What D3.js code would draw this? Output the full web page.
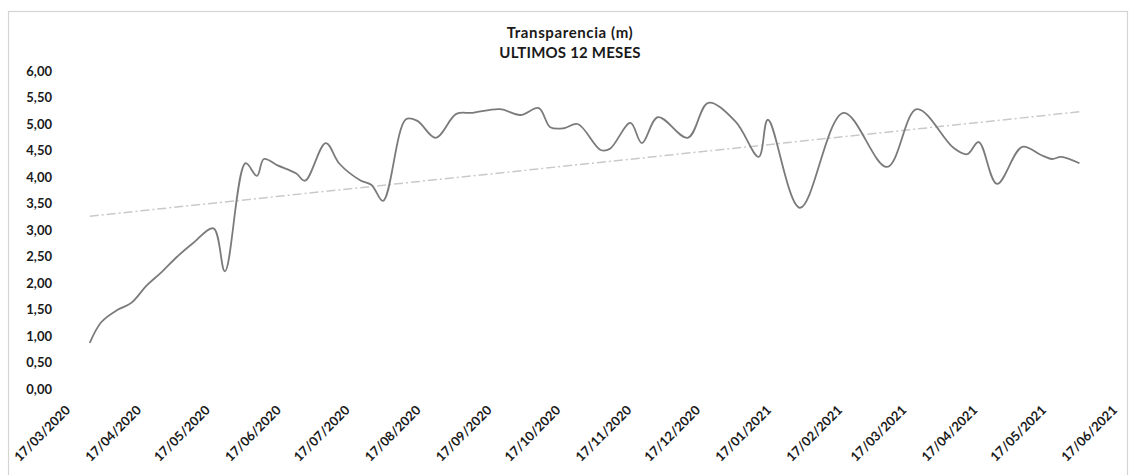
<!DOCTYPE html>
<html>
<head>
<meta charset="utf-8">
<script src="https://cdn.jsdelivr.net/npm/d3@7"></script>
<style>
  html, body { margin: 0; padding: 0; background: #ffffff; }
  svg { display: block; }
  text { font-family: Lato, "Liberation Sans", sans-serif; font-weight: 700; fill: #1a1a1a; }
</style>
</head>
<body>
<svg id="chart" width="1129" height="475"></svg>
<script>
// ---- data ----
const dates = [
  "2020-03-23","2020-03-28","2020-04-04","2020-04-10","2020-04-17","2020-04-23","2020-04-30",
  "2020-05-07","2020-05-16","2020-05-21","2020-05-30","2020-06-04","2020-06-07","2020-06-13",
  "2020-06-21","2020-06-25","2020-07-04","2020-07-10","2020-07-19","2020-07-24","2020-07-29",
  "2020-08-08","2020-08-13","2020-08-21","2020-08-30","2020-09-06","2020-09-18","2020-09-27",
  "2020-10-05","2020-10-10","2020-10-16","2020-10-22","2020-11-01","2020-11-05","2020-11-14",
  "2020-11-19","2020-11-26","2020-12-09","2020-12-18","2020-12-30","2021-01-09","2021-01-13",
  "2021-01-27","2021-02-15","2021-03-06","2021-03-19","2021-04-04","2021-04-10","2021-04-15",
  "2021-04-23","2021-05-04","2021-05-12","2021-05-17","2021-05-21","2021-05-29"
];
const transparencia = [
  0.87, 1.26, 1.49, 1.62, 1.96, 2.19, 2.49,
  2.75, 3.03, 2.22, 4.26, 4.02, 4.34, 4.22,
  4.07, 3.93, 4.64, 4.25, 3.94, 3.85, 3.55,
  5.09, 5.06, 4.74, 5.19, 5.21, 5.28, 5.17,
  5.30, 4.94, 4.92, 5.00, 4.51, 4.53, 5.02,
  4.64, 5.13, 4.74, 5.40, 5.04, 4.38, 5.08,
  3.42, 5.21, 4.19, 5.28, 4.55, 4.43, 4.66,
  3.87, 4.57, 4.42, 4.34, 4.38, 4.26
];
// linear trend line (Excel trendline), end values
const trendDates = ["2020-03-23", "2021-05-29"];
const trendValues = [3.26, 5.23];

const xTickLabels = [
  "17/03/2020","17/04/2020","17/05/2020","17/06/2020","17/07/2020","17/08/2020",
  "17/09/2020","17/10/2020","17/11/2020","17/12/2020","17/01/2021","17/02/2021",
  "17/03/2021","17/04/2021","17/05/2021","17/06/2021"
];
const yTicks = [0, 0.5, 1, 1.5, 2, 2.5, 3, 3.5, 4, 4.5, 5, 5.5, 6];
const titleLines = ["Transparencia (m)", "ULTIMOS 12 MESES"];

// ---- drawing ----
const svg = d3.select("#chart");
const parse = d3.timeParse("%Y-%m-%d");
const parseLabel = d3.timeParse("%d/%m/%Y");

// chart frame
svg.append("rect")
  .attr("x", 8.5).attr("y", 11.5)
  .attr("width", 1119).attr("height", 480)
  .attr("fill", "#ffffff")
  .attr("stroke", "#d4d4d4").attr("stroke-width", 1.2);

const x = d3.scaleTime()
  .domain([parseLabel(xTickLabels[0]), parseLabel(xTickLabels[xTickLabels.length - 1])])
  .range([76, 1123]);
const y = d3.scaleLinear().domain([0, 6]).range([389, 71]);

const fmt = v => d3.format(".2f")(v).replace(".", ",");

// y axis (no line, no ticks, labels only)
const yAxis = d3.axisLeft(y).tickValues(yTicks).tickFormat(fmt).tickSize(0).tickPadding(0);
const gy = svg.append("g").attr("transform", "translate(52,0)").call(yAxis);
gy.select(".domain").remove();
gy.selectAll("text")
  .attr("font-family", "Lato, 'Liberation Sans', sans-serif")
  .attr("font-size", 13).attr("font-weight", 700).attr("fill", "#1a1a1a");

// x axis (rotated labels)
const xTickDates = xTickLabels.map(parseLabel);
const xAxis = d3.axisBottom(x).tickValues(xTickDates)
  .tickFormat(d3.timeFormat("%d/%m/%Y")).tickSize(0).tickPadding(0);
const gx = svg.append("g").attr("transform", "translate(0,0)").call(xAxis);
gx.select(".domain").remove();
gx.selectAll(".tick").attr("transform", d => `translate(${x(d) - 5},411)`);
gx.selectAll("text")
  .attr("font-family", "Lato, 'Liberation Sans', sans-serif")
  .attr("font-size", 13).attr("font-weight", 700).attr("fill", "#1a1a1a")
  .attr("text-anchor", "end").attr("dy", 0).attr("y", 0)
  .attr("transform", "rotate(-45)");

// trend line
const trendData = trendDates.map((d, i) => ({ d: parse(d), v: trendValues[i] }));
svg.append("path")
  .datum(trendData)
  .attr("fill", "none")
  .attr("stroke", "#c9c9c9")
  .attr("stroke-width", 1.5)
  .attr("stroke-dasharray", "9,3,2,3")
  .attr("d", d3.line().x(p => x(p.d)).y(p => y(p.v)));

// main series
const series = dates.map((d, i) => ({ d: parse(d), v: transparencia[i] }));
svg.append("path")
  .datum(series)
  .attr("fill", "none")
  .attr("stroke", "#7b7b7b")
  .attr("stroke-width", 1.8)
  .attr("stroke-linejoin", "round")
  .attr("d", d3.line().x(p => x(p.d)).y(p => y(p.v)).curve(d3.curveCatmullRom.alpha(0.5)));

// title
svg.append("text")
  .attr("x", 570).attr("y", 38)
  .attr("text-anchor", "middle").attr("font-size", 15)
  .attr("letter-spacing", 0.6)
  .text(titleLines[0]);
svg.append("text")
  .attr("x", 570).attr("y", 58)
  .attr("text-anchor", "middle").attr("font-size", 15)
  .attr("letter-spacing", 0.2)
  .text(titleLines[1]);
</script>
</body>
</html>
